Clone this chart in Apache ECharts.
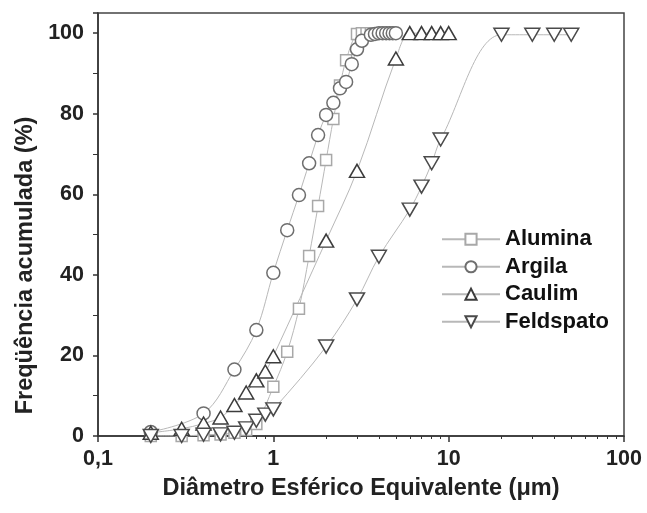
<!DOCTYPE html>
<html>
<head>
<meta charset="UTF-8">
<title>Frequencia acumulada</title>
<script src="https://cdn.jsdelivr.net/npm/echarts@6/dist/echarts.min.js"></script>
<style>
  html, body { margin: 0; padding: 0; background: #fff; }
  #main { width: 647px; height: 513px; }
</style>
</head>
<body>
<div id="main"></div>
<script>
// diametro (um) / frequencia acumulada (%)
const aluminaX = [0.2, 0.3, 0.4, 0.5, 0.6, 0.7, 0.8, 1.0, 1.2, 1.4, 1.6, 1.8, 2.0, 2.2, 2.4, 2.6, 3.0, 3.2, 3.4, 3.6];
const aluminaY = [0, 0, 0.2, 0.4, 0.8, 1.5, 3, 12.2, 20.9, 31.6, 44.7, 57.1, 68.5, 78.7, 87, 93.3, 99.8, 100, 100, 100];

const argilaX = [0.2, 0.4, 0.6, 0.8, 1.0, 1.2, 1.4, 1.6, 1.8, 2.0, 2.2, 2.4, 2.6, 2.8, 3.0, 3.2, 3.6, 3.8, 4.0, 4.2, 4.4, 4.6, 4.8, 5.0];
const argilaY = [1, 5.6, 16.5, 26.3, 40.5, 51.1, 59.8, 67.7, 74.7, 79.7, 82.7, 86.3, 87.9, 92.3, 96, 98.1, 99.6, 99.8, 100, 100, 100, 100, 100, 100];

const caulimX = [0.2, 0.3, 0.4, 0.5, 0.6, 0.7, 0.8, 0.9, 1.0, 2.0, 3.0, 5.0, 6.0, 7.0, 8.0, 9.0, 10.0];
const caulimY = [0.8, 1.8, 3.1, 4.6, 7.7, 10.8, 13.8, 16, 19.8, 48.5, 65.8, 93.7, 100, 100, 100, 100, 100];

const feldspatoX = [0.2, 0.3, 0.4, 0.5, 0.6, 0.7, 0.8, 0.9, 1.0, 2.0, 3.0, 4.0, 6.0, 7.0, 8.0, 9.0, 20, 30, 40, 50];
const feldspatoY = [0, 0, 0.3, 0.4, 0.8, 1.9, 3.8, 5.3, 6.6, 22.2, 33.9, 44.5, 56.2, 61.9, 67.7, 73.6, 99.6, 99.6, 99.6, 99.6];

// marcas menores do eixo log
const minorTicksX = [0.2, 0.3, 0.4, 0.5, 0.6, 0.7, 0.8, 0.9, 2, 3, 4, 5, 6, 7, 8, 9, 20, 30, 40, 50, 60, 70, 80, 90];

const zip = (xs, ys) => xs.map((x, i) => [x, ys[i]]);

const font = '"Liberation Sans", Arial, sans-serif';
const lineGray = '#b8b8b8';
const axisColor = '#333';

function serie(name, xs, ys, symbol, size, border, rotate) {
  return {
    name: name,
    type: 'line',
    data: zip(xs, ys),
    smooth: 0.35,
    symbol: symbol,
    symbolSize: size,
    symbolRotate: rotate || 0,
    showAllSymbol: true,
    lineStyle: { color: lineGray, width: 1 },
    itemStyle: { color: '#fff', borderColor: border, borderWidth: 1.5 },
    emphasis: { disabled: true },
    animation: false
  };
}

var chart = echarts.init(document.getElementById('main'), null, { renderer: 'canvas' });

chart.setOption({
  backgroundColor: '#fff',
  animation: false,
  grid: {
    left: 98, right: 23, top: 13, bottom: 77,
    show: true, borderColor: '#444', borderWidth: 1.5
  },
  legend: {
    orient: 'vertical',
    left: 436, top: 223,
    itemWidth: 58, itemHeight: 14, itemGap: 5,
    textStyle: {
      fontFamily: font, fontWeight: 'bold', fontSize: 22, lineHeight: 22.5,
      color: '#111', padding: [0, 0, 0, 0]
    },
    data: ['Alumina', 'Argila', 'Caulim', 'Feldspato']
  },
  xAxis: [
    {
      type: 'log', logBase: 10, min: 0.1, max: 100,
      name: 'Diâmetro Esférico Equivalente (μm)',
      nameLocation: 'middle', nameGap: 41,
      nameTextStyle: { fontFamily: font, fontWeight: 'bold', fontSize: 23.5, color: '#222' },
      axisLine: { lineStyle: { color: axisColor, width: 1.5 } },
      axisTick: { inside: false, length: 6, lineStyle: { color: axisColor, width: 1.5 } },
      axisLabel: {
        fontFamily: font, fontWeight: 'bold', fontSize: 21.5, color: '#222', margin: 12,
        formatter: v => String(v).replace('.', ',')
      },
      splitLine: { show: false }
    },
    {
      type: 'log', logBase: 10, min: 0.1, max: 100,
      position: 'bottom', offset: 0,
      axisLine: { show: false },
      axisTick: { inside: false, length: 3, customValues: minorTicksX, lineStyle: { color: axisColor, width: 1 } },
      axisLabel: { show: false },
      splitLine: { show: false }
    }
  ],
  yAxis: {
    type: 'value', min: 0, max: 105, interval: 20,
    name: 'Freqüência acumulada (%)',
    nameLocation: 'middle', nameGap: 58,
    nameTextStyle: {
      fontFamily: font, fontWeight: 'bold', fontSize: 23.5, color: '#222',
      padding: [0, 82, 0, 0]
    },
    axisLine: { show: true, lineStyle: { color: axisColor, width: 1.5 } },
    axisTick: { show: true, inside: false, length: 5, lineStyle: { color: axisColor, width: 1.5 } },
    minorTick: { show: true, splitNumber: 2, length: 5, lineStyle: { color: axisColor, width: 1 } },
    axisLabel: {
      fontFamily: font, fontWeight: 'bold', fontSize: 21.5, color: '#222', margin: 14,
      showMaxLabel: false,
      formatter: v => (v > 100 ? '' : String(v))
    },
    splitLine: { show: false }
  },
  series: [
    serie('Alumina', aluminaX, aluminaY, 'rect', 11, '#a8a8a8'),
    serie('Argila', argilaX, argilaY, 'circle', 13, '#6e6e6e'),
    serie('Caulim', caulimX, caulimY, 'triangle', [15, 13], '#3c3c3c'),
    serie('Feldspato', feldspatoX, feldspatoY, 'triangle', [15, 13], '#4a4a4a', 180)
  ]
});
</script>
</body>
</html>
